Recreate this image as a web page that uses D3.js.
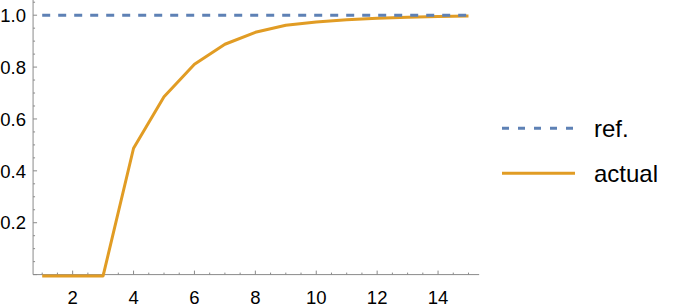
<!DOCTYPE html>
<html>
<head>
<meta charset="utf-8">
<script src="https://cdn.jsdelivr.net/npm/d3@7"></script>
<style>
  body { margin: 0; background: #fff; }
  svg { display: block; font-family: "Liberation Sans", Arial, sans-serif; }
</style>
</head>
<body>
<div id="chart"></div>
<script>
// data
var steps = [1, 2, 3, 4, 5, 6, 7, 8, 9, 10, 11, 12, 13, 14, 15];
var refValues = [1, 1, 1, 1, 1, 1, 1, 1, 1, 1, 1, 1, 1, 1, 1];
var actualValues = [-0.005, -0.005, -0.005, 0.487, 0.686, 0.811, 0.888, 0.934, 0.961, 0.974, 0.982, 0.988, 0.992, 0.995, 0.997];
var xTicks = [2, 4, 6, 8, 10, 12, 14];
var yTicks = [0.2, 0.4, 0.6, 0.8, 1.0];
var seriesNames = ["ref.", "actual"];
var colors = ["#5e81b5", "#e19c24"];

var width = 675, height = 307;

var svg = d3.select("#chart").append("svg")
    .attr("width", width)
    .attr("height", height);

// scales
var x = d3.scaleLinear().domain([1, 15]).range([42.2, 468.5]);
var y = d3.scaleLinear().domain([0, 1]).range([274.6, 15.2]);

var axisColor = "#8a8a8a";
var x0 = x(0.7), x1 = x(15.35);

// axes lines
svg.append("line")
    .attr("x1", x0).attr("x2", x0)
    .attr("y1", 0).attr("y2", y(0))
    .attr("stroke", axisColor).attr("stroke-width", 1);
svg.append("line")
    .attr("x1", x0).attr("x2", x1)
    .attr("y1", y(0)).attr("y2", y(0))
    .attr("stroke", axisColor).attr("stroke-width", 1);

// y ticks (major + minor)
var yMinor = d3.range(0, 1.06, 0.05).map(function(d) { return +d.toFixed(2); });
svg.selectAll(".ytick").data(yMinor).enter()
    .append("line")
    .attr("x1", x0)
    .attr("x2", function(d) { return x0 + (Math.abs(d * 5 - Math.round(d * 5)) < 1e-6 ? 4 : 2); })
    .attr("y1", function(d) { return y(d); })
    .attr("y2", function(d) { return y(d); })
    .attr("stroke", axisColor);

svg.selectAll(".ylab").data(yTicks).enter()
    .append("text")
    .attr("x", 26)
    .attr("y", function(d) { return y(d); })
    .attr("dy", "0.36em")
    .attr("text-anchor", "end")
    .attr("font-size", 18.5)
    .attr("fill", "#000")
    .text(function(d) { return d3.format(".1f")(d); });

// x ticks (major + minor)
var xMinor = d3.range(1, 15.4, 0.5);
svg.selectAll(".xtick").data(xMinor).enter()
    .append("line")
    .attr("x1", function(d) { return x(d); })
    .attr("x2", function(d) { return x(d); })
    .attr("y1", y(0))
    .attr("y2", function(d) { return y(0) - (d % 2 === 0 ? 4 : 2); })
    .attr("stroke", axisColor);

svg.selectAll(".xlab").data(xTicks).enter()
    .append("text")
    .attr("x", function(d) { return x(d); })
    .attr("y", 303.5)
    .attr("text-anchor", "middle")
    .attr("font-size", 18.5)
    .attr("fill", "#000")
    .text(function(d) { return d; });

// lines
var line = d3.line()
    .x(function(d, i) { return x(steps[i]); })
    .y(function(d) { return y(d); });

svg.append("path")
    .datum(actualValues)
    .attr("d", line)
    .attr("fill", "none")
    .attr("stroke", colors[1])
    .attr("stroke-width", 3)
    .attr("stroke-linejoin", "round");

svg.append("path")
    .datum(refValues)
    .attr("d", line)
    .attr("fill", "none")
    .attr("stroke", colors[0])
    .attr("stroke-width", 3)
    .attr("stroke-dasharray", "8,8");

// legend
var legend = svg.append("g");
var legY = [128.3, 173.3];
seriesNames.forEach(function(name, i) {
    legend.append("line")
        .attr("x1", 502).attr("x2", 575)
        .attr("y1", legY[i]).attr("y2", legY[i])
        .attr("stroke", colors[i])
        .attr("stroke-width", 3)
        .attr("stroke-dasharray", i === 0 ? "7,9" : null);
    legend.append("text")
        .attr("x", 594)
        .attr("y", legY[i] + 9)
        .attr("font-size", 24)
        .attr("fill", "#000")
        .text(name);
});
</script>
</body>
</html>
